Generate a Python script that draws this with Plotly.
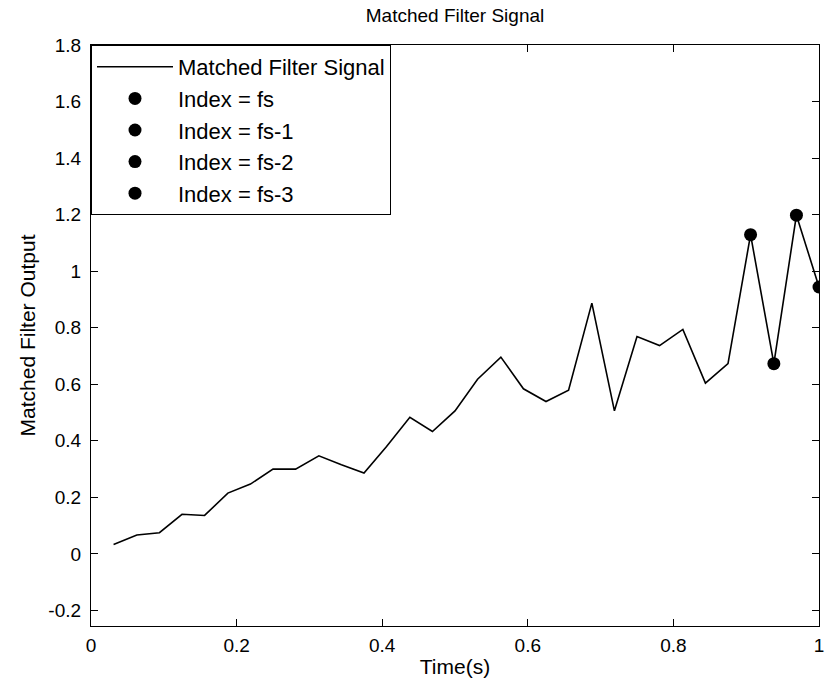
import plotly.graph_objects as go

# Matched filter output sampled over one second
time_s = [0.031, 0.063, 0.094, 0.125, 0.156, 0.188, 0.219, 0.250,
          0.281, 0.313, 0.344, 0.375, 0.406, 0.438, 0.469, 0.500,
          0.531, 0.563, 0.594, 0.625, 0.656, 0.688, 0.719, 0.750,
          0.781, 0.813, 0.844, 0.875, 0.906, 0.938, 0.969, 1.000]
mf_output = [0.033, 0.067, 0.075, 0.140, 0.136, 0.215, 0.247, 0.300,
             0.300, 0.347, 0.315, 0.286, 0.380, 0.483, 0.433, 0.506,
             0.618, 0.696, 0.584, 0.539, 0.579, 0.887, 0.506, 0.769,
             0.737, 0.794, 0.604, 0.673, 1.129, 0.673, 1.198, 0.944]

# Highlighted samples: (legend label, position in the series)
marker_labels = ["Index = fs", "Index = fs-1", "Index = fs-2", "Index = fs-3"]
marker_index = [31, 30, 29, 28]

x_ticks = [0, 0.2, 0.4, 0.6, 0.8, 1]
x_tick_text = ["0", "0.2", "0.4", "0.6", "0.8", "1"]
y_ticks = [-0.2, 0, 0.2, 0.4, 0.6, 0.8, 1, 1.2, 1.4, 1.6, 1.8]
y_tick_text = ["-0.2", "0", "0.2", "0.4", "0.6", "0.8", "1", "1.2", "1.4", "1.6", "1.8"]

FONT = "Liberation Sans, Arial, Helvetica, sans-serif"

fig = go.Figure()
fig.add_trace(go.Scatter(
    x=time_s, y=mf_output, mode="lines",
    line=dict(color="black", width=1.6),
    name="Matched Filter Signal", legendgroup="a",
))
for i, (lbl, idx) in enumerate(zip(marker_labels, marker_index)):
    fig.add_trace(go.Scatter(
        x=[time_s[idx]], y=[mf_output[idx]], mode="markers",
        marker=dict(color="black", size=13, symbol="circle"),
        name=lbl, legendgroup=f"m{i}",
    ))

axis_common = dict(
    showline=True, linecolor="black", linewidth=1.2, mirror="ticks",
    ticks="inside", ticklen=7, tickcolor="black", tickwidth=1,
    showgrid=False, zeroline=False, ticklabeloverflow="allow",
    automargin=False,
    tickfont=dict(family=FONT, size=19, color="black"),
)

fig.update_layout(
    width=826, height=689,
    margin=dict(l=91, r=7, t=45, b=63),
    paper_bgcolor="white", plot_bgcolor="white",
    title=dict(text="Matched Filter Signal", x=0.5, xref="paper",
               y=0.977, yanchor="middle",
               font=dict(family=FONT, size=19, color="black")),
    xaxis=dict(range=[0, 1], tickvals=x_ticks, ticktext=x_tick_text,
               ticklabelstandoff=2,
               title=dict(text="Time(s)", standoff=4,
                          font=dict(family=FONT, size=21, color="black")),
               **axis_common),
    yaxis=dict(range=[-0.255, 1.8], tickvals=y_ticks, ticktext=y_tick_text,
               ticklabelstandoff=5,
               title=dict(text="Matched Filter Output", standoff=6,
                          font=dict(family=FONT, size=21, color="black")),
               **axis_common),
    legend=dict(x=0, y=1, xanchor="left", yanchor="top",
                bgcolor="white", bordercolor="black", borderwidth=1,
                font=dict(family=FONT, size=22, color="black"),
                itemwidth=76, tracegroupgap=0, traceorder="grouped"),
    showlegend=True,
)

fig.write_html("out.html")
